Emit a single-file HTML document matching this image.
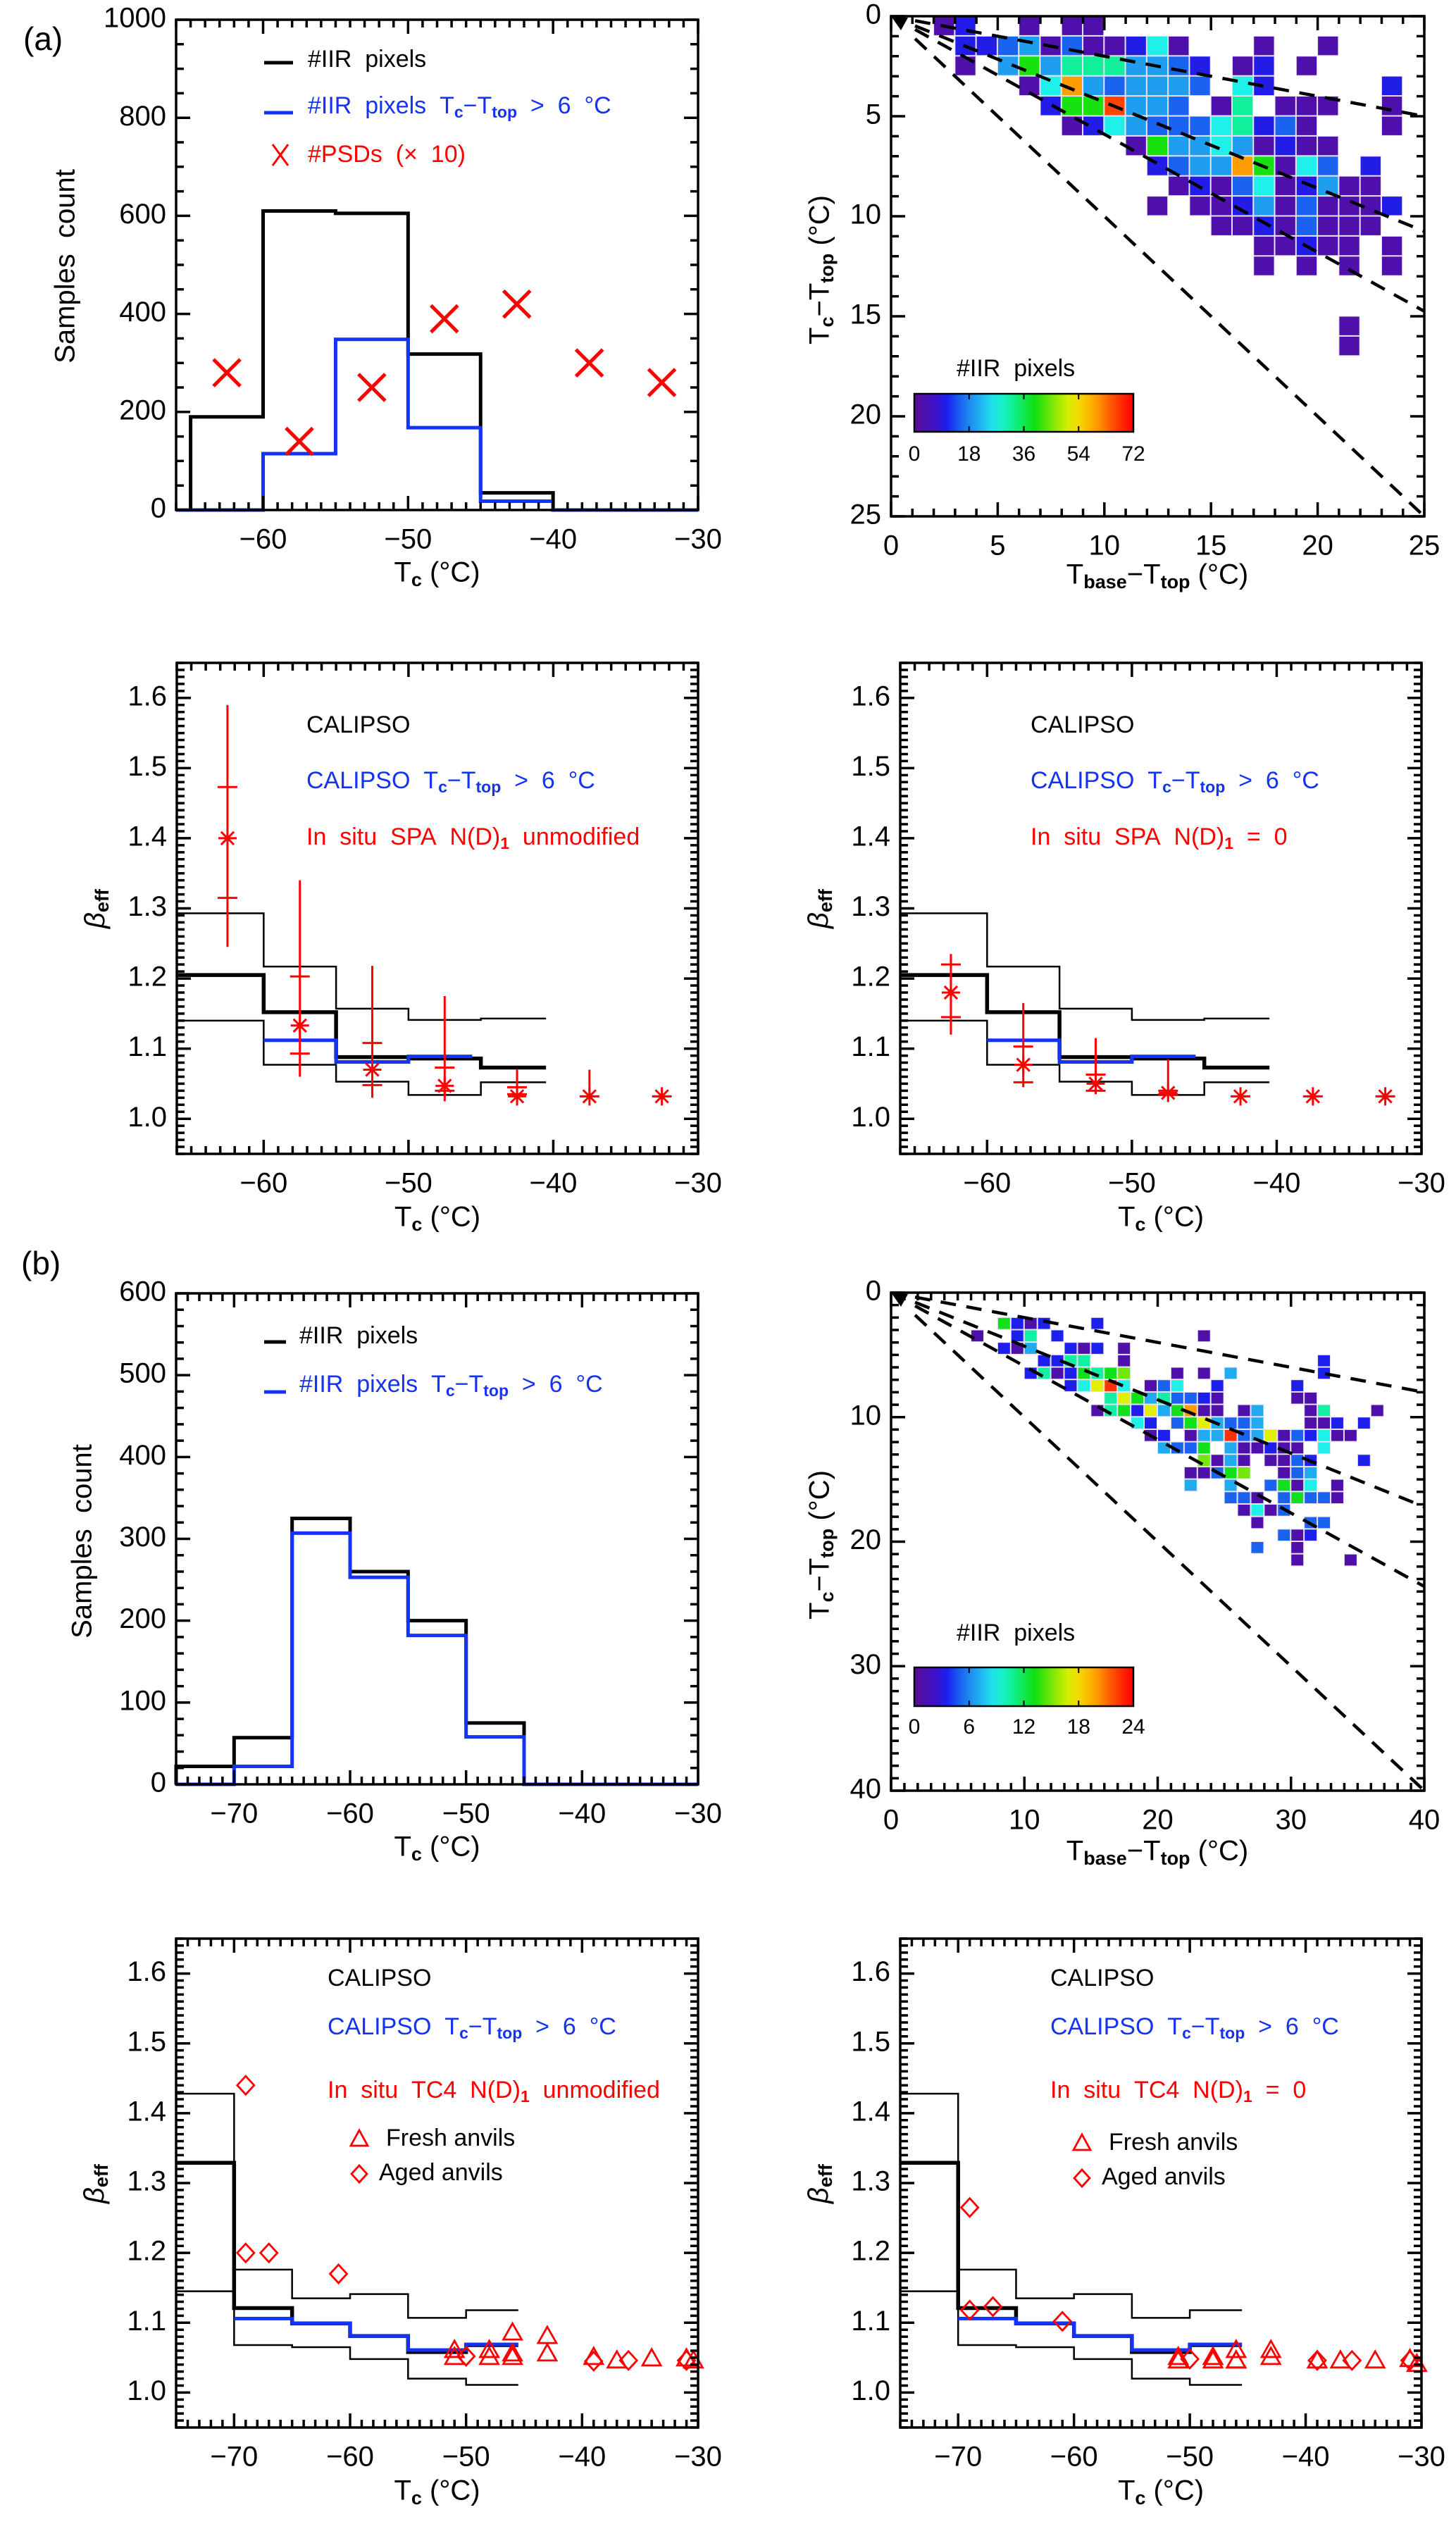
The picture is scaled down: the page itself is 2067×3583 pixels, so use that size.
<!DOCTYPE html>
<html><head><meta charset="utf-8"><style>
html,body{margin:0;padding:0;background:#fff}
svg{display:block;font-family:"Liberation Sans",Arial,sans-serif}
</style></head><body>
<svg id="fig" xmlns="http://www.w3.org/2000/svg" width="2067" height="3583" viewBox="0 0 2067 3583"></svg>
<script>
// ---------- DATA ----------
const histAEdgesBlack=[-65,-60,-55,-50,-45,-40,-30];
const histAValsBlack=[190,610,605,318,35,0];
const histAEdgesBlue=[-66,-60,-55,-50,-45,-40,-30];
const histAValsBlue=[0,115,348,168,18,0];
const psdT=[-62.5,-57.5,-52.5,-47.5,-42.5,-37.5,-32.5];
const psdCount=[280,140,250,390,420,300,260];
const betaAEdges=[-66,-60,-55,-50,-45,-40.5];
const betaAMed=[1.205,1.152,1.088,1.086,1.073];
const betaAUp=[1.293,1.217,1.157,1.141,1.143];
const betaALow=[1.140,1.077,1.053,1.034,1.052];
const betaABlueEdges=[-60,-55,-50,-45.6];
const betaABlue=[1.112,1.081,1.089];
const spaT=[-62.5,-57.5,-52.5,-47.5,-42.5,-37.5,-32.5];
const spaUnmod=[1.40,1.133,1.07,1.047,1.032,1.032,1.032];
const spaUnmodBarLo=[1.245,1.06,1.03,1.025,1.03,1.03,1.032];
const spaUnmodBarHi=[1.59,1.34,1.218,1.175,1.07,1.07,1.032];
const spaUnmodQLo=[1.315,1.093,1.048,1.04,1.035,1.032,1.032];
const spaUnmodQHi=[1.473,1.203,1.108,1.073,1.045,1.032,1.032];
const spaZero=[1.18,1.077,1.05,1.037,1.032,1.032,1.032];
const spaZeroBarLo=[1.12,1.045,1.035,1.025,1.032,1.032,1.032];
const spaZeroBarHi=[1.235,1.165,1.115,1.085,1.032,1.032,1.032];
const spaZeroQLo=[1.145,1.052,1.04,1.035,1.032,1.032,1.032];
const spaZeroQHi=[1.22,1.103,1.063,1.04,1.032,1.032,1.032];
const heatACols=[[2,3,6,8,9],[3,4,5,6,7,8,9,10,11,12,13,17,20],[3,5,6,7,8,9,10,11,12,13,14,16,17,19],[6,7,8,9,10,11,12,13,14,16,17,23],[7,8,9,10,11,12,13,15,16,18,19,20,23],[8,9,10,11,12,13,14,15,16,17,18,19,23],[11,12,13,14,15,16,17,18,19,20],[12,13,14,15,16,17,18,19,20,22],[13,14,15,16,17,18,19,20,21,22],[12,14,15,16,17,18,19,20,21,22,23],[15,16,17,18,19,20,21,22],[17,18,19,20,21,23],[17,19,21,23],[],[],[21],[21]];
const heatAVals=[[3,10,3,3,3],[10,10,15,20,3,15,3,3,10,27,3,3,3],[3,20,40,20,32,32,32,20,20,15,10,3,10,3],[3,27,60,20,15,20,20,20,15,27,10,10],[10,40,40,66,20,20,15,3,32,3,3,3,3],[3,10,27,20,15,15,15,27,32,10,15,3,3],[3,40,20,20,27,20,3,10,3,3],[10,15,20,20,60,40,3,27,15,10],[3,10,3,15,27,3,10,20,3,3],[3,3,3,10,20,3,15,3,3,3,10],[3,3,10,3,15,3,3,3],[3,3,10,3,3,3],[3,3,3,3],[],[],[3],[3]];
const histBEdges=[-75,-70,-65,-60,-55,-50,-45,-30];
const histBBlack=[22,57,325,260,200,75,0];
const histBBlue=[0,22,307,253,182,58,0];
const heatBCols=[[],[],[8,9,10,11,15],[6,9,10,12,23],[8,9,10,13,14,15,17],[11,12,13,14,17,32],[10,11,12,13,14,15,16,17,21,23,25,32],[13,14,15,16,17,19,20,21,24,30],[16,17,18,19,20,21,22,23,24,30,31],[15,16,17,18,19,20,21,22,23,24,26,27,31,32,36],[18,19,21,22,23,24,25,26,27,31,32,33,35],[19,20,22,23,24,25,26,27,28,29,30,31,32,33,34],[20,21,22,23,25,26,27,28,29,30,32],[23,24,25,26,28,29,30,31,35],[22,23,24,25,26,29,30,31],[22,25,28,29,30,31,33],[25,26,27,29,30,31,32,33],[26,27,28,29],[27,31,32],[29,30,31],[27,30],[30,34]];
const heatBVals=[[],[],[13,3.5,1,3.5,3.5],[1,3.5,10.5,3.5,1],[3.5,1,7,3.5,1,3.5,1],[3.5,3.5,10.5,10.5,1,3.5],[3.5,10.5,1,3.5,13,10.5,13,15,1,1,7,3.5],[3.5,9,17,22.5,9,1,5,9,3.5,3.5],[10.5,17,13,7,10.5,5,5,3.5,1,1,1],[1,10.5,13,3.5,17,7,13,20,1,1,1,7,1,10.5,1],[9,3.5,5,13,17,7,5,5,7,1,1,3.5,3.5],[1,3.5,1,7,7,22.5,5,7,17,1,5,3.5,9,1,1],[7,5,5,13,7,1,1,3.5,1,1,9],[15,1,7,1,1,1,5,3.5,3.5],[1,1,5,13,15,1,5,7],[7,7,5,13,1,9,1],[5,5,1,5,13,5,5,1],[1,9,1,5],[1,5,5],[5,1,3.5],[5,1],[1,1]];
const betaBEdges=[-75,-70,-65,-60,-55,-50,-45.5];
const betaBMed=[1.329,1.121,1.099,1.081,1.058,1.068];
const betaBUp=[1.428,1.176,1.135,1.141,1.107,1.118];
const betaBLow=[1.145,1.068,1.065,1.048,1.020,1.011];
const betaBBlueEdges=[-70,-65,-60,-55,-50,-45.5];
const betaBBlue=[1.106,1.099,1.081,1.061,1.069];
const freshT=[-51,-51,-48,-48,-46,-46,-46,-43,-43,-39,-37,-34,-31,-30.4];
const freshUnmod=[1.06,1.05,1.06,1.05,1.085,1.055,1.05,1.08,1.055,1.05,1.045,1.048,1.048,1.045];
const freshZero=[1.05,1.045,1.05,1.045,1.06,1.045,1.045,1.06,1.05,1.045,1.045,1.045,1.047,1.04];
const agedT=[-69,-69,-67,-61,-50,-39,-36,-31];
const agedUnmod=[1.44,1.20,1.20,1.17,1.052,1.045,1.046,1.046];
const agedZero=[1.265,1.118,1.123,1.102,1.048,1.046,1.046,1.046];
const heatSlopes=[1,0.59,0.43,0.2];

// ---------- HELPERS ----------
const NS='http://www.w3.org/2000/svg';
const svg=document.getElementById('fig');
const BLUE='#1533f5', RED='#ff0000';
const LFS=34;
function el(tag,attrs,parent){const e=document.createElementNS(NS,tag);for(const k in attrs)e.setAttribute(k,attrs[k]);(parent||svg).appendChild(e);return e;}
function sub(s,fs){const d=Math.round(fs*0.25);return `<tspan dy="${d}" font-size="${Math.round(fs*0.68)}" font-weight="bold">${s}</tspan><tspan dy="${-d}">\u200B</tspan>`;}
function txt(parent,x,y,html,fs,color,anchor,rot){
  const t=el('text',{x:x,y:y,'font-size':fs,fill:color||'#000','text-anchor':anchor||'start','dominant-baseline':'middle'},parent);
  if(rot)t.setAttribute('transform',`rotate(${rot} ${x} ${y})`);
  t.innerHTML=html;return t;}
function panel(name,L,T,R,B,x0,x1,y0,y1,inv){
  const g=el('g',{});
  
  
  return {g,L,T,R,B,
    X:v=>L+(v-x0)/(x1-x0)*(R-L),
    Y:v=>inv?T+(v-y0)/(y1-y0)*(B-T):B-(v-y0)/(y1-y0)*(B-T),
    x0,x1,y0,y1};
}
function frame(p){
  const r=el('rect',{x:p.L,y:p.T,width:p.R-p.L,height:p.B-p.T,fill:'none',stroke:'#000','stroke-width':3.5},p.g);
  
  
}
function ticks(p,xs,xe,xstep,xMaj,ys,ye,ystep,yMaj){
  let d='';
  const nx=Math.round((xe-xs)/xstep);
  for(let i=0;i<=nx;i++){const v=xs+i*xstep;const maj=xMaj.some(m=>Math.abs(m-v)<1e-6);const len=maj?20:11;const x=p.X(v);
    d+=`M${x} ${p.B}V${p.B-len}M${x} ${p.T}V${p.T+len}`;}
  const ny=Math.round((ye-ys)/ystep);
  for(let i=0;i<=ny;i++){const v=ys+i*ystep;const maj=yMaj.some(m=>Math.abs(m-v)<1e-6);const len=maj?20:11;const y=p.Y(v);
    d+=`M${p.L} ${y}H${p.L+len}M${p.R} ${y}H${p.R-len}`;}
  const pth=el('path',{d:d,stroke:'#000','stroke-width':3.5,fill:'none'},p.g);
  
  
}
function tickLabels(p,xMaj,xFmt,yMaj,yFmt,fs){
  fs=fs||40;
  xMaj.forEach(v=>{const t=txt(p.g,p.X(v),p.B+44,xFmt(v),fs,'#000','middle');
    
    });
  yMaj.forEach(v=>{let y=p.Y(v);const t=txt(p.g,p.L-14,y,yFmt(v),fs,'#000','end');
    
    });
}
const fmtInt=v=>(v<0?'\u2212'+Math.abs(v):''+v);
const fmt1=v=>v.toFixed(1);
function steps(p,edges,vals,color,w,name,fromZero){
  let d=fromZero?`M${p.X(edges[0])} ${p.Y(0)}V${p.Y(vals[0])}`:`M${p.X(edges[0])} ${p.Y(vals[0])}`;
  for(let i=0;i<vals.length;i++){d+=`H${p.X(edges[i+1])}`;if(i+1<vals.length)d+=`V${p.Y(vals[i+1])}`;}
  const pth=el('path',{d:d,stroke:color,'stroke-width':w,fill:'none'},p.g);
  
  
}
function xlabelTc(p,y){const t=txt(p.g,(p.L+p.R)/2,y,'T'+sub('c',40)+' (°C)',40,'#000','middle');
  
  }
function betaLabel(p,x,y){const t=txt(p.g,x,y,'<tspan font-style="italic">β</tspan>'+sub('eff',40),40,'#000','middle',-90);
  
  }
function cmap(f){
  const st=[[0,[90,14,150]],[0.1,[60,16,200]],[0.15,[26,32,240]],[0.22,[26,112,240]],[0.29,[32,168,240]],[0.37,[32,240,240]],[0.44,[16,240,160]],[0.55,[16,224,16]],[0.72,[240,240,0]],[0.83,[255,160,0]],[0.92,[255,64,0]],[1,[255,0,0]]];
  f=Math.max(0,Math.min(1,f));
  for(let i=1;i<st.length;i++){if(f<=st[i][0]){const a=st[i-1],b=st[i];const t=(f-a[0])/(b[0]-a[0]);
    const c=a[1].map((v,k)=>Math.round(v+(b[1][k]-v)*t));return `rgb(${c[0]},${c[1]},${c[2]})`;}}
  return 'rgb(255,0,0)';
}
function heat(p,cols,vals,vmax){
  const hg=el('g',{},p.g);
  
  
  cols.forEach((row,r)=>row.forEach((c,i)=>{
    const x=p.X(c),y=p.Y(r),w=p.X(c+1)-x,h=p.Y(r+1)-y;
    const rc=el('rect',{x:x,y:y,width:w-1,height:h-1,fill:cmap(vals[r][i]/vmax),stroke:'#e8e0f0','stroke-width':1},hg);
    
    
  }));
}
function dashes(p,xmax){
  heatSlopes.forEach(s=>{
    const xs=xmax*0.045, xe=xmax;
    const l=el('line',{x1:p.X(xs),y1:p.Y(xs*s),x2:p.X(xe),y2:p.Y(xe*s),stroke:'#000','stroke-width':4.5,'stroke-dasharray':'22 15'},p.g);
    
    
  });
  const tri=el('path',{d:`M${p.L} ${p.T}L${p.L+24} ${p.T+2}L${p.L+14} ${p.T+20}Z`,fill:'#000'},p.g);
  
  
}
function colorbar(p,x,y,w,h,labels,ly,ty){
  const defs=el('defs',{},p.g);
  const id='cb'+Math.round(y);
  const lg=el('linearGradient',{id:id,x1:0,y1:0,x2:1,y2:0},defs);
  for(let i=0;i<=20;i++){el('stop',{offset:i/20,'stop-color':cmap(i/20)},lg);}
  const r=el('rect',{x:x,y:y,width:w,height:h,fill:`url(#${id})`,stroke:'#000','stroke-width':2.5},p.g);
  
  
  labels.forEach((s,i)=>{const lx=x+w*i/(labels.length-1);
    if(i>0&&i<labels.length-1){el('path',{d:`M${lx} ${y+h}v-8M${lx} ${y}v8`,stroke:'#000','stroke-width':2},p.g);}
    const t=txt(p.g,lx,ly,s,30,'#000','middle');
    
    });
  const tt=txt(p.g,x+60,ty,'#IIR&#160;&#160;pixels',LFS,'#000','start');
  
  
}
function asterisk(p,x,y,s,name){
  const X=p.X(x),Y=p.Y(y);
  const a=el('path',{d:`M${X-s} ${Y}H${X+s}M${X-s*0.7} ${Y-s*0.7}L${X+s*0.7} ${Y+s*0.7}M${X-s*0.7} ${Y+s*0.7}L${X+s*0.7} ${Y-s*0.7}M${X} ${Y-s}V${Y+s}`,stroke:RED,'stroke-width':3,fill:'none'},p.g);
  
  
}
function errBars(p,ts,lo,hi,qlo,qhi){
  ts.forEach((t,i)=>{
    const X=p.X(t);
    let d=`M${X} ${p.Y(lo[i])}V${p.Y(hi[i])}M${X-14} ${p.Y(qlo[i])}H${X+14}M${X-14} ${p.Y(qhi[i])}H${X+14}`;
    const e=el('path',{d:d,stroke:RED,'stroke-width':3,fill:'none'},p.g);
    
    
  });
}
function tri(p,x,y,name){const X=p.X(x),Y=p.Y(y);
  const e=el('path',{d:`M${X} ${Y-14}L${X+13} ${Y+9}L${X-13} ${Y+9}Z`,stroke:RED,'stroke-width':2.8,fill:'none'},p.g);
  
  }
function dia(p,x,y,name){const X=p.X(x),Y=p.Y(y);
  const e=el('path',{d:`M${X} ${Y-13}L${X+12} ${Y}L${X} ${Y+13}L${X-12} ${Y}Z`,stroke:RED,'stroke-width':2.8,fill:'none'},p.g);
  
  }
function legText(p,x,y,html,color,name){const t=txt(p.g,x,y,html,LFS,color,'start');
  
  return t;}
const SP='&#160;&#160;';
const tcTop='T'+sub('c',LFS)+'\u2212T'+sub('top',LFS);

let la=txt(svg,33,59,'(a)',46,'#000','start');


let lb=txt(svg,30,1797,'(b)',46,'#000','start');



// ---------- P1 ----------
{
const p=panel('histogram-a',250,28,991,724,-66,-30,0,1000);
steps(p,histAEdgesBlack,histAValsBlack,'#000',5,'hist-all-pixels',true);
steps(p,histAEdgesBlue,histAValsBlue,BLUE,5,'hist-thick-pixels',true);
psdT.forEach((t,i)=>{const X=p.X(t),Y=p.Y(psdCount[i]);
  const c=el('path',{d:`M${X-19} ${Y-19}L${X+19} ${Y+19}M${X-19} ${Y+19}L${X+19} ${Y-19}`,stroke:RED,'stroke-width':5,fill:'none'},p.g);
  
  });
frame(p);
ticks(p,-66,-30,1,[-60,-50,-40,-30],0,1000,50,[0,200,400,600,800,1000]);
tickLabels(p,[-60,-50,-40,-30],fmtInt,[0,200,400,600,800,1000],v=>''+v);
xlabelTc(p,815);
let yl=txt(p.g,95,378,'Samples'+SP+'count',40,'#000','middle',-90);


el('line',{x1:375,y1:89,x2:416,y2:89,stroke:'#000','stroke-width':5},p.g);
legText(p,437,86,'#IIR'+SP+'pixels','#000','legend-entry-all');
el('line',{x1:375,y1:160,x2:416,y2:160,stroke:BLUE,'stroke-width':5},p.g);
legText(p,437,152,'#IIR'+SP+'pixels'+SP+tcTop+SP+'&gt;'+SP+'6'+SP+'°C',BLUE,'legend-entry-thick');
el('path',{d:'M387 205L409 235M387 235L409 205',stroke:RED,'stroke-width':3,fill:'none'},p.g);
legText(p,437,221,'#PSDs'+SP+'(×'+SP+'10)',RED,'legend-entry-psd');
}
// ---------- P2 ----------
{
const p=panel('heatmap-a',1265,23,2022,733,0,25,0,25,true);
heat(p,heatACols,heatAVals,72);
dashes(p,25);
frame(p);
const mj=[0,5,10,15,20,25];
ticks(p,0,25,1,mj,0,25,1,mj);
tickLabels(p,mj,v=>''+v,mj,v=>''+v);
colorbar(p,1298,559,311,54,['0','18','36','54','72'],646,525);
let xl=txt(p.g,1643,818,'T'+sub('base',40)+'\u2212T'+sub('top',40)+' (°C)',40,'#000','middle');


let yl=txt(p.g,1166,383,'T'+sub('c',40)+'\u2212T'+sub('top',40)+' (°C)',40,'#000','middle',-90);


}
function betaA(name,L,R,vals,lo,hi,qlo,qhi,redText,textX){
const p=panel(name,L,941,R,1638,-66,-30,0.95,1.65);
steps(p,betaAEdges,betaAUp,'#000',2.5,'calipso-upper');
steps(p,betaAEdges,betaALow,'#000',2.5,'calipso-lower');
steps(p,betaAEdges,betaAMed,'#000',5.5,'calipso-median');
steps(p,betaABlueEdges,betaABlue,BLUE,5,'calipso-thick-median');
errBars(p,spaT,lo,hi,qlo,qhi);
spaT.forEach((t,i)=>asterisk(p,t,vals[i],13,'insitu-spa-point'));
frame(p);
const ym=[1.0,1.1,1.2,1.3,1.4,1.5,1.6];
ticks(p,-66,-30,1,[-60,-50,-40,-30],0.95,1.65,0.01,ym);
tickLabels(p,[-60,-50,-40,-30],fmtInt,ym,fmt1);
xlabelTc(p,1730);
betaLabel(p,L-114,1290);
legText(p,textX,1031,'CALIPSO','#000','legend-calipso');
legText(p,textX,1110,'CALIPSO'+SP+tcTop+SP+'&gt;'+SP+'6'+SP+'°C',BLUE,'legend-calipso-thick');
legText(p,textX,1190,redText,RED,'legend-insitu');
}
betaA('beta-a-unmodified',251,991,spaUnmod,spaUnmodBarLo,spaUnmodBarHi,spaUnmodQLo,spaUnmodQHi,'In'+SP+'situ'+SP+'SPA'+SP+'N(D)'+sub('1',LFS)+SP+'unmodified',435);
betaA('beta-a-zero',1278,2018,spaZero,spaZeroBarLo,spaZeroBarHi,spaZeroQLo,spaZeroQHi,'In'+SP+'situ'+SP+'SPA'+SP+'N(D)'+sub('1',LFS)+SP+'='+SP+'0',1463);

// ---------- P5 ----------
{
const p=panel('histogram-b',250,1836,991,2533,-75,-30,0,600);
steps(p,histBEdges,histBBlack,'#000',5,'hist-all-pixels',true);
steps(p,histBEdges,histBBlue,BLUE,5,'hist-thick-pixels',true);
frame(p);
const ym=[0,100,200,300,400,500,600];
ticks(p,-75,-30,1,[-70,-60,-50,-40,-30],0,600,20,ym);
tickLabels(p,[-70,-60,-50,-40,-30],fmtInt,ym,v=>''+v);
xlabelTc(p,2624);
let yl=txt(p.g,119,2188,'Samples'+SP+'count',40,'#000','middle',-90);


el('line',{x1:375,y1:1905,x2:406,y2:1905,stroke:'#000','stroke-width':5},p.g);
legText(p,425,1898,'#IIR'+SP+'pixels','#000','legend-entry-all');
el('line',{x1:375,y1:1976,x2:406,y2:1976,stroke:BLUE,'stroke-width':5},p.g);
legText(p,425,1967,'#IIR'+SP+'pixels'+SP+tcTop+SP+'&gt;'+SP+'6'+SP+'°C',BLUE,'legend-entry-thick');
}
// ---------- P6 ----------
{
const p=panel('heatmap-b',1265,1835,2022,2542,0,40,0,40,true);
heat(p,heatBCols,heatBVals,24);
dashes(p,40);
frame(p);
const mj=[0,10,20,30,40];
ticks(p,0,40,1,mj,0,40,1,mj);
tickLabels(p,mj,v=>''+v,mj,v=>''+v);
colorbar(p,1298,2367,311,55,['0','6','12','18','24'],2453,2320);
let xl=txt(p.g,1643,2630,'T'+sub('base',40)+'\u2212T'+sub('top',40)+' (°C)',40,'#000','middle');


let yl=txt(p.g,1166,2193,'T'+sub('c',40)+'\u2212T'+sub('top',40)+' (°C)',40,'#000','middle',-90);


}
function betaB(name,L,R,fresh,aged,redText,textX,legY){
const p=panel(name,L,2752,R,3446,-75,-30,0.95,1.65);
steps(p,betaBEdges,betaBUp,'#000',2.5,'calipso-upper');
steps(p,betaBEdges,betaBLow,'#000',2.5,'calipso-lower');
steps(p,betaBEdges,betaBMed,'#000',5.5,'calipso-median');
steps(p,betaBBlueEdges,betaBBlue,BLUE,5,'calipso-thick-median');
freshT.forEach((t,i)=>tri(p,t,fresh[i],'fresh-anvil-point'));
agedT.forEach((t,i)=>dia(p,t,aged[i],'aged-anvil-point'));
frame(p);
const ym=[1.0,1.1,1.2,1.3,1.4,1.5,1.6];
ticks(p,-75,-30,1,[-70,-60,-50,-40,-30],0.95,1.65,0.01,ym);
tickLabels(p,[-70,-60,-50,-40,-30],fmtInt,ym,fmt1);
xlabelTc(p,3538);
betaLabel(p,L-114,3100);
legText(p,textX,2810,'CALIPSO','#000','legend-calipso');
legText(p,textX,2879,'CALIPSO'+SP+tcTop+SP+'&gt;'+SP+'6'+SP+'°C',BLUE,'legend-calipso-thick');
legText(p,textX,2969,redText,RED,'legend-insitu');
const tx=textX+45;
let e=el('path',{d:`M${tx} ${legY[0]-13}L${tx+12} ${legY[0]+9}L${tx-12} ${legY[0]+9}Z`,stroke:RED,'stroke-width':2.8,fill:'none'},p.g);


legText(p,tx+38,legY[0],'Fresh anvils','#000','legend-fresh');
e=el('path',{d:`M${tx} ${legY[1]-12}L${tx+11} ${legY[1]}L${tx} ${legY[1]+12}L${tx-11} ${legY[1]}Z`,stroke:RED,'stroke-width':2.8,fill:'none'},p.g);


legText(p,tx+28,legY[1],'Aged anvils','#000','legend-aged');
}
betaB('beta-b-unmodified',250,991,freshUnmod,agedUnmod,'In'+SP+'situ'+SP+'TC4'+SP+'N(D)'+sub('1',LFS)+SP+'unmodified',465,[3037,3086]);
betaB('beta-b-zero',1278,2018,freshZero,agedZero,'In'+SP+'situ'+SP+'TC4'+SP+'N(D)'+sub('1',LFS)+SP+'='+SP+'0',1491,[3043,3092]);
</script>
</body></html>
